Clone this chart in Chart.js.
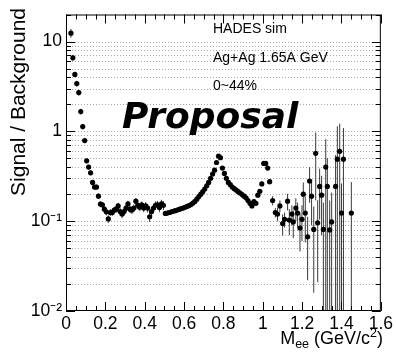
<!DOCTYPE html>
<html><head><meta charset="utf-8">
<script src="https://cdn.jsdelivr.net/npm/chart.js@4.4.0/dist/chart.umd.min.js"></script>
<style>html,body{margin:0;padding:0;background:#fff}#wrap{width:396px;height:356px;position:relative}</style>
</head><body><div id="wrap"><canvas id="c" width="396" height="356"></canvas></div>
<script>
// ---- data ----
const massX = [
 0.025,0.035,0.045,0.055,0.065,0.075,0.085,0.095,0.105,0.115,0.125,0.135,0.145,0.155,0.165,0.175,0.185,0.195,
 0.205,0.215,0.225,0.235,0.245,0.255,0.265,0.275,0.285,0.295,0.305,0.315,0.325,0.335,0.345,0.355,0.365,0.375,
 0.385,0.395,0.405,0.415,0.425,0.435,0.445,0.455,0.465,0.475,0.485,0.495,
 0.505,0.515,0.525,0.535,0.545,0.555,0.565,0.575,0.585,0.595,0.605,0.615,0.625,0.635,0.645,0.655,0.665,0.675,
 0.685,0.695,0.705,0.715,0.725,0.735,0.745,0.755,0.765,0.775,0.785,0.795,0.805,0.815,0.825,0.835,0.845,0.855,
 0.865,0.875,0.885,0.895,0.905,0.915,0.925,0.935,0.945,0.955,0.965,0.975,0.985,0.995,1.005,1.015,1.025,1.035,
 1.050,1.064,1.075,1.087,1.101,1.111,1.126,1.135,1.148,1.155,1.168,1.177,1.189,1.199,1.206,1.216,1.228,1.238,
 1.248,1.259,1.269,1.279,1.289,1.299,1.308,1.320,1.328,1.340,1.350,1.370,1.379,1.391,1.400,1.410,1.450
];
const signalToBackground = [
 12.4,6.6,4.3,3.4,2.7,1.66,1.13,0.79,0.47,0.40,0.345,0.27,0.24,0.24,0.19,0.155,0.152,0.136,
 0.127,0.106,0.125,0.125,0.133,0.136,0.148,0.128,0.12,0.128,0.14,0.156,0.136,0.133,0.14,0.167,0.15,0.143,
 0.152,0.14,0.148,0.14,0.112,0.128,0.14,0.15,0.152,0.142,0.156,0.15,
 0.122,0.123,0.125,0.127,0.129,0.131,0.133,0.135,0.138,0.14,0.143,0.146,0.149,0.153,0.159,0.166,0.176,0.188,
 0.2,0.213,0.228,0.248,0.27,0.30,0.335,0.37,0.45,0.53,0.51,0.39,0.34,0.30,0.27,0.255,0.24,0.23,
 0.222,0.213,0.206,0.198,0.19,0.182,0.17,0.158,0.148,0.165,0.158,0.195,0.215,0.26,0.44,0.44,0.39,0.275,
 0.17,0.125,0.12,0.148,0.094,0.105,0.167,0.103,0.12,0.098,0.14,0.123,0.084,0.105,0.2,0.123,0.067,0.28,
 0.19,0.081,0.57,0.096,0.244,0.195,0.081,0.40,0.244,0.08,0.098,0.244,0.49,0.60,0.123,0.49,0.123
];
const signalToBackgroundErr = [
 1.4,0.5,0.3,0.25,0.2,0.12,0.08,0.05,0.03,0.025,0.02,0.018,0.015,0.015,0.013,0.012,0.012,0.011,
 0.011,0.01,0.011,0.011,0.012,0.012,0.012,0.012,0.012,0.012,0.013,0.013,0.013,0.013,0.013,0.014,0.014,0.014,
 0.014,0.014,0.015,0.015,0.014,0.015,0.015,0.016,0.016,0.016,0.017,0.017,
 0.003,0.003,0.003,0.003,0.003,0.003,0.003,0.003,0.003,0.003,0.003,0.003,0.004,0.004,0.004,0.004,0.005,0.005,
 0.006,0.006,0.007,0.008,0.009,0.01,0.012,0.014,0.018,0.022,0.022,0.018,0.014,0.012,0.01,0.009,0.008,0.008,
 0.008,0.008,0.008,0.008,0.008,0.008,0.008,0.008,0.008,0.009,0.009,0.011,0.012,0.015,0.025,0.025,0.022,0.018,
 0.02,0.015,0.02,0.022,0.025,0.02,0.035,0.033,0.03,0.033,0.04,0.038,0.038,0.045,0.07,0.065,0.045,0.12,
 0.1,0.065,0.4,0.075,0.14,0.125,0.08,0.42,0.26,0.09,0.11,0.3,0.65,0.62,0.14,0.6,0.15
];
const xTickValues = [0,0.2,0.4,0.6,0.8,1.0,1.2,1.4,1.6];
const xTickLabels = ['0','0.2','0.4','0.6','0.8','1','1.2','1.4','1.6'];
const yTickValues = [0.01,0.1,1,10];
const yTickLabels = ['10\u207B\u00B2','10\u207B\u00B9','1','10'];
const yAxisTitle = 'Signal / Background';
const xAxisTitleParts = ['M','ee',' (GeV/c','2',')'];
const infoLines = ['HADES sim','Ag+Ag 1.65A GeV','0~44%'];
const watermark = 'Proposal';

const X_MIN = 0, X_MAX = 1.6, Y_MIN = 0.01, Y_MAX = 20;
const SANS = '"Liberation Sans", Arial, Helvetica, sans-serif';

const points = massX.map((x,i)=>({x, y: signalToBackground[i]}));

const decor = {
  id: 'decor',
  beforeDatasetsDraw(chart){
    const {ctx, chartArea:a, scales:{x, y}} = chart;
    ctx.save();
    ctx.strokeStyle = '#a8a8a8';
    ctx.lineWidth = 1;
    ctx.setLineDash([1,2]);
    for (let e = -2; e <= 1; e++) {
      for (let m = 1; m <= 9; m++) {
        const v = m * Math.pow(10, e);
        if (v <= Y_MIN || v >= Y_MAX) continue;
        const py = Math.round(y.getPixelForValue(v)) + 0.5;
        ctx.beginPath(); ctx.moveTo(a.left, py); ctx.lineTo(a.right, py); ctx.stroke();
      }
    }
    ctx.setLineDash([]);
    ctx.beginPath(); ctx.rect(a.left, a.top, a.right - a.left, a.bottom - a.top); ctx.clip();
    ctx.strokeStyle = '#3a3a3a';
    ctx.lineWidth = 1;
    for (let i = 0; i < massX.length; i++) {
      const px = x.getPixelForValue(massX[i]);
      const hi = signalToBackground[i] + signalToBackgroundErr[i];
      const lo = signalToBackground[i] - signalToBackgroundErr[i];
      const pyHi = y.getPixelForValue(hi);
      const pyLo = lo > Y_MIN ? y.getPixelForValue(lo) : a.bottom;
      ctx.beginPath(); ctx.moveTo(px, pyLo); ctx.lineTo(px, pyHi); ctx.stroke();
    }
    ctx.restore();
  },
  afterDatasetsDraw(chart){
    const {ctx, chartArea:a, scales:{x, y}} = chart;
    ctx.save();
    ctx.strokeStyle = '#000';
    ctx.lineWidth = 1;
    ctx.strokeRect(a.left + 0.5, a.top + 0.5, a.right - a.left - 1, a.bottom - a.top - 1);
    ctx.beginPath();
    for (let k = 0; k <= 32; k++) {
      const v = X_MIN + k * 0.05;
      const px = Math.round(x.getPixelForValue(v)) + 0.5;
      const len = (k % 4 === 0) ? 9 : 5;
      ctx.moveTo(px, a.bottom); ctx.lineTo(px, a.bottom - len);
      ctx.moveTo(px, a.top); ctx.lineTo(px, a.top + len);
    }
    for (let e = -2; e <= 1; e++) {
      for (let m = 1; m <= 9; m++) {
        const v = m * Math.pow(10, e);
        if (v < Y_MIN || v > Y_MAX) continue;
        const py = Math.round(y.getPixelForValue(v)) + 0.5;
        const len = m === 1 ? 9 : 5;
        ctx.moveTo(a.left, py); ctx.lineTo(a.left + len, py);
        ctx.moveTo(a.right, py); ctx.lineTo(a.right - len, py);
      }
    }
    ctx.stroke();
    ctx.fillStyle = '#000';
    ctx.textBaseline = 'middle';
    ctx.textAlign = 'left';
    ctx.font = '14px ' + SANS;
    ctx.fillText(infoLines[0], 213, 29);
    ctx.fillText(infoLines[1], 213, 58);
    ctx.fillText(infoLines[2], 213, 86);
    ctx.textBaseline = 'alphabetic';
    ctx.font = 'italic bold 36px "DejaVu Sans", sans-serif';
    ctx.fillText(watermark, 122, 128);
    ctx.save();
    ctx.translate(25, 8);
    ctx.rotate(-Math.PI / 2);
    ctx.textAlign = 'right';
    ctx.font = '21px ' + SANS;
    ctx.fillText(yAxisTitle, 0, 0);
    ctx.restore();
    const big = '18px ' + SANS, small = '12.5px ' + SANS;
    const fonts = [big, small, big, small, big];
    const dy = [0, 4, 0, -7.5, 0];
    let widths = xAxisTitleParts.map((t,i)=>{ ctx.font = fonts[i]; return ctx.measureText(t).width; });
    let tx = 383 - widths.reduce((s,w)=>s+w,0);
    const base = 344;
    xAxisTitleParts.forEach((t,i)=>{ ctx.font = fonts[i]; ctx.fillText(t, tx, base + dy[i]); tx += widths[i]; });
    ctx.restore();
  }
};

new Chart(document.getElementById('c'), {
  type: 'scatter',
  data: { datasets: [{
    data: points,
    backgroundColor: '#000',
    borderColor: '#000',
    borderWidth: 0,
    pointRadius: 2.6,
    pointHoverRadius: 2.6,
    showLine: false
  }]},
  options: {
    responsive: false,
    devicePixelRatio: 1,
    animation: false,
    events: [],
    layout: { padding: { left: 0, right: 15, top: 7, bottom: 0 } },
    plugins: { legend: { display: false }, tooltip: { enabled: false } },
    scales: {
      x: {
        type: 'linear', min: X_MIN, max: X_MAX,
        afterBuildTicks: s => { s.ticks = xTickValues.map(v => ({ value: v })); },
        afterFit: s => { s.height = 45; },
        grid: { display: false, drawTicks: false },
        border: { display: false },
        ticks: {
          autoSkip: false, maxRotation: 0, padding: 3, color: '#000',
          font: { family: SANS, size: 17.5 },
          callback: (v, i) => xTickLabels[i]
        }
      },
      y: {
        type: 'logarithmic', min: Y_MIN, max: Y_MAX,
        afterBuildTicks: s => { s.ticks = yTickValues.map(v => ({ value: v })); },
        afterFit: s => { s.width = 66; },
        grid: { display: false, drawTicks: false },
        border: { display: false },
        ticks: {
          autoSkip: false, padding: 4, color: '#000',
          font: { family: SANS, size: 17.5 },
          callback: (v, i) => yTickLabels[i]
        }
      }
    }
  },
  plugins: [decor]
});
</script>
</body></html>
